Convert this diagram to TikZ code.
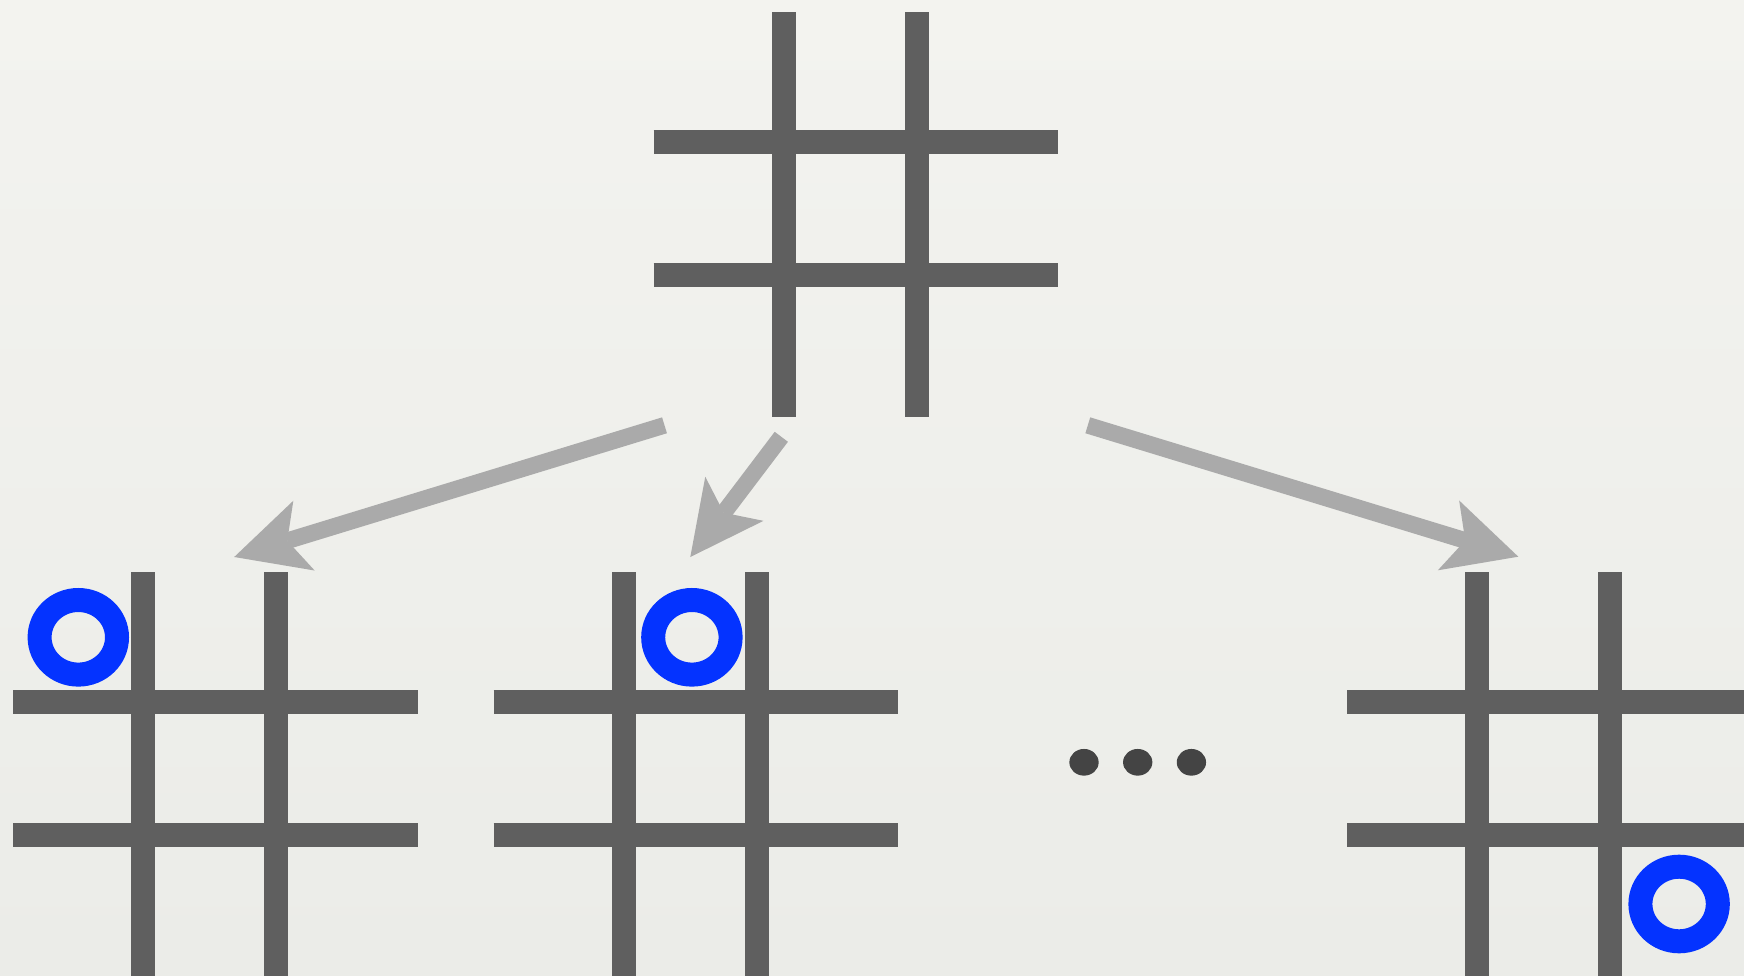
\documentclass[tikz,border=0pt]{standalone}
\usetikzlibrary{shapes.geometric,arrows.meta,positioning,calc}
\definecolor{bgtop}{HTML}{F3F3EF}
\definecolor{bgbot}{HTML}{EBECE8}
\definecolor{bargray}{HTML}{5F5F5F}
\definecolor{arrgray}{HTML}{AAAAAA}
\definecolor{oblue}{HTML}{0433FF}
\definecolor{dotgray}{HTML}{444444}
\tikzset{
  board style/.style={rectangle, inner sep=0pt, minimum width=404pt,
    minimum height=404pt, anchor=north west},
  bar style/.style={draw=bargray, line width=24pt, line cap=butt},
  o style/.style={ellipse, draw=oblue, line width=24pt, inner sep=0pt,
    minimum width=77.4pt, minimum height=74.6pt},
  dot style/.style={ellipse, fill=dotgray, inner sep=0pt,
    minimum width=29.3pt, minimum height=26.7pt},
  arr style/.style={-{Stealth[length=73pt, width=73pt, inset=17.5pt, line width=0pt]},
    draw=arrgray, line width=16.6pt, line cap=butt}
}
\begin{document}
\begin{tikzpicture}[x=1pt, y=-1pt]
\useasboundingbox (0,0) rectangle (1744,976);
\clip (0,0) rectangle (1744,976);
\shade[top color=bgtop, bottom color=bgbot] (0,0) rectangle (1744,976);
% boards
\node[board style] (top) at (653.7,12.3) {};
\node[board style] (b1) at (13.3,572.3) {};
\node[board style] (b2) at (493.7,572.3) {};
\node[board style] (b3) at (1347.3,572.3) {};
\foreach \b in {top,b1,b2,b3} {
  \foreach \d in {130,263} {
    \draw[bar style] ($(\b.north west)+(\d,0)$) -- ($(\b.south west)+(\d,0)$);
    \draw[bar style] ($(\b.north west)+(0,\d)$) -- ($(\b.north east)+(0,\d)$);
  }
}
% moves
\node[o style] (o1) at ($(b1.north west)+(65,65)$) {};
\node[o style] (o2) at ($(b2.north west)+(198.2,65)$) {};
\node[o style] (o3) at ($(b3.north west)+(331.8,331.7)$) {};
% more children
\node[dot style] (d1) at (1084,762.3) {};
\node[dot style, right=24pt of d1] (d2) {};
\node[dot style, right=24pt of d2] (d3) {};
% arrows
\coordinate (t1) at (664.5,425.3);
\coordinate (h1) at (234.2,557);
\coordinate (t2) at (781.3,436.8);
\coordinate (h2) at (690.3,557);
\coordinate (t3) at (1087.8,425.3);
\coordinate (h3) at (1518.3,556.7);
\draw[arr style] (t1) -- (h1);
\draw[arr style] (t2) -- (h2);
\draw[arr style] (t3) -- (h3);
\end{tikzpicture}
\end{document}
